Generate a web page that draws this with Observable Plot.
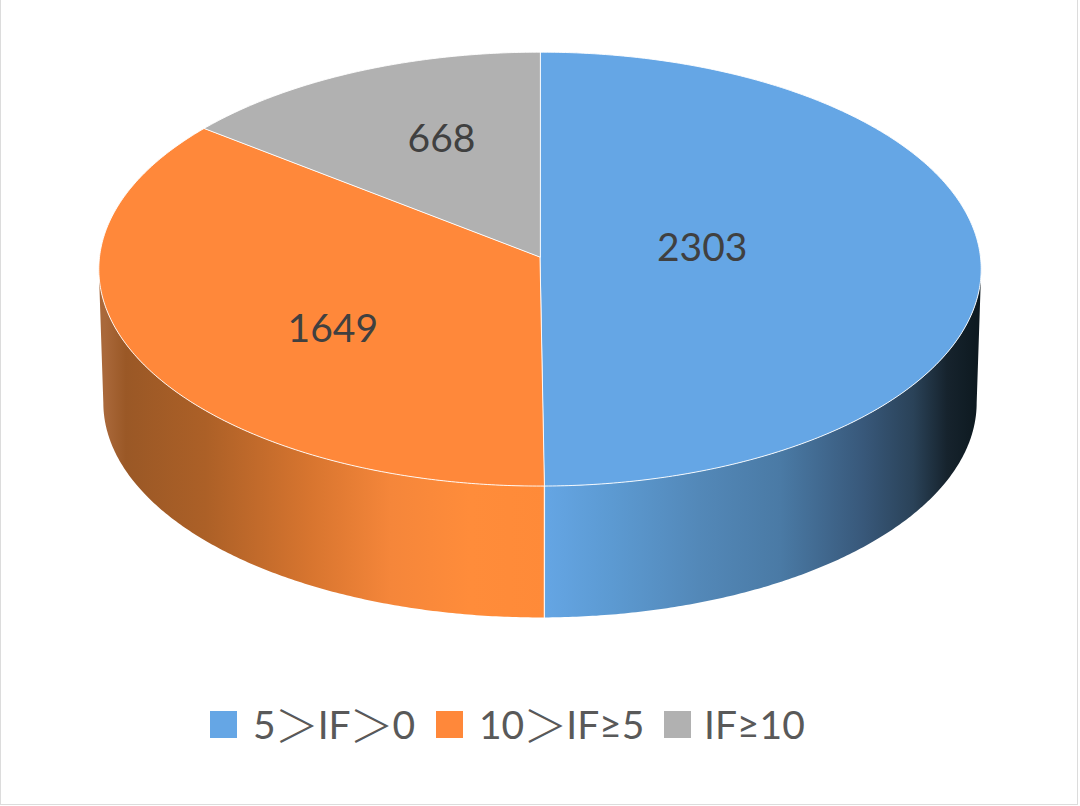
<!DOCTYPE html>
<html>
<head>
<meta charset="utf-8">
<script src="https://cdn.jsdelivr.net/npm/d3@7"></script>
<script src="https://cdn.jsdelivr.net/npm/@observablehq/plot@0.6"></script>
<style>
  html, body { margin: 0; padding: 0; background: #fff; }
  #page { position: relative; width: 1080px; height: 806px; overflow: hidden; font-family: Lato, "Noto Sans CJK SC", sans-serif; }
  #frame { position: absolute; left: 0; top: 0; width: 1076px; height: 804px; border: solid #dcdcdc; border-width: 0 1.5px 1.5px 1.5px; pointer-events: none; }
  #chart svg { display: block; }
  #legend { position: absolute; left: 0; top: 690px; width: 1080px; height: 112px; }
  .item { position: absolute; display: flex; align-items: center; height: 42px; color: #595959; font-size: 39px; white-space: nowrap; }
  .swatch { position: absolute; width: 27px; height: 27px; }
  .gt { font-family: "Noto Sans CJK SC"; font-weight: 300; font-size: 44px; margin: 0 -1px; }
</style>
</head>
<body>
<div id="page">
  <div id="chart"></div>
  <div id="legend"></div>
  <div id="frame"></div>
</div>
<script>
// ---- data ----
const categories = ["5＞IF＞0", "10＞IF≥5", "IF≥10"];
const counts = [2303, 1649, 668];
const sliceColors = ["#65a6e5", "#ff883a", "#b1b1b1"];

// ---- perspective disc geometry ----
const W = 1080, H = 690;
const top_ = {cx: 539.5, cy: 256.6, R: 440.5, A: 216.3, k: 0.0553};
const bot_ = {cx: 539.5, cy: 390.4, R: 436, A: 214, k: 0.0553};
const rad = d => d * Math.PI / 180;
function project(g, deg, f = 1) {
  const t = rad(deg), s = 1 / (1 + g.k * f * Math.cos(t));
  return {x: g.cx + g.R * f * Math.sin(t) * s, y: g.cy - g.A * f * Math.cos(t) * s};
}
const degs = (a, b, step = 0.5) => {
  const n = Math.ceil(Math.abs(b - a) / step);
  return d3.range(n + 1).map(i => a + (b - a) * i / n);
};

const total = d3.sum(counts);
let acc = 0;
const slices = counts.map((v, i) => {
  const a0 = acc / total * 360; acc += v;
  return {name: categories[i], value: v, color: sliceColors[i], a0, a1: acc / total * 360};
});

// top face polygons: apex + rim
const faces = slices.flatMap(s => [
  {name: s.name, color: s.color, ...project(top_, 0, 0)},
  ...degs(s.a0, s.a1).map(d => ({name: s.name, color: s.color, ...project(top_, d)}))
]);

// visible side walls
const leftTangent = 360 - 93.2, rightTangent = 93.2;
const wall = (a, b) => [
  ...degs(a, b).map(d => project(top_, d)),
  ...degs(b, a).map(d => project(bot_, d))
];
const blueWall = wall(rightTangent, slices[0].a1);
const orangeWall = wall(slices[0].a1, leftTangent);
const divider = [project(top_, slices[0].a1), project(bot_, slices[0].a1)];

// gradient definitions (a render-only mark)
const stops = (id, list) => `<linearGradient id="${id}" gradientUnits="userSpaceOnUse" x1="99" x2="981" y1="0" y2="0">` +
  list.map(([o, c]) => `<stop offset="${o}" stop-color="${c}"/>`).join("") + `</linearGradient>`;
const defsMark = () => {
  const g = document.createElementNS("http://www.w3.org/2000/svg", "defs");
  g.innerHTML =
    stops("orangeSide", [[0.006, "#a9683a"], [0.03, "#9a5826"], [0.12, "#ac6027"], [0.24, "#d8752f"], [0.33, "#f5863a"], [0.42, "#ff8c3a"], [0.51, "#ff8a38"]]) +
    stops("blueSide", [[0.5, "#65a6e5"], [0.58, "#5c9ad2"], [0.68, "#5388b8"], [0.772, "#4a7aa5"], [0.866, "#38587a"], [0.923, "#2a4258"], [0.961, "#16232d"], [0.993, "#0e1a21"]]);
  return g;
};

const labelOffsets = [[-80, -8], [13, 19], [5, -14]];
const textColor = "#404040";

const chart = Plot.plot({
  width: W, height: H,
  margin: 0,
  style: {background: "transparent", overflow: "visible"},
  x: {domain: [0, W], range: [0, W], axis: null},
  y: {domain: [0, H], range: [0, H], axis: null},
  color: {type: "identity"},
  marks: [
    defsMark,
    Plot.line(blueWall, {x: "x", y: "y", fill: "url(#blueSide)", stroke: "none", curve: "linear"}),
    Plot.line(orangeWall, {x: "x", y: "y", fill: "url(#orangeSide)", stroke: "none", curve: "linear"}),
    Plot.line(divider, {x: "x", y: "y", stroke: "#fff", strokeWidth: 1.3, strokeOpacity: 0.85}),
    Plot.line(faces, {x: "x", y: "y", z: "name", fill: "color", stroke: "#fff", strokeWidth: 1, strokeOpacity: 0.9, curve: "linear-closed"}),
    ...slices.map((s, i) => Plot.text([s], {
      x: () => project(top_, (s.a0 + s.a1) / 2, 0.55).x,
      y: () => project(top_, (s.a0 + s.a1) / 2, 0.55).y,
      text: d => String(d.value),
      dx: labelOffsets[i][0], dy: labelOffsets[i][1],
      fontSize: 39, fontFamily: "Lato", fill: textColor
    }))
  ]
});
document.getElementById("chart").appendChild(chart);

// ---- legend ----
const legendSlots = [
  {swatch: 210, label: 253},
  {swatch: 436, label: 479},
  {swatch: 664, label: 704}
];
const legend = d3.select("#legend");
categories.forEach((c, i) => {
  legend.append("div").attr("class", "swatch")
    .style("left", legendSlots[i].swatch + "px").style("top", "21px")
    .style("background", sliceColors[i]);
  const lab = legend.append("div").attr("class", "item")
    .style("left", legendSlots[i].label + "px").style("top", "13px");
  c.split(/(＞)/).forEach(part => {
    lab.append("span").attr("class", part === "＞" ? "gt" : null).text(part);
  });
});
</script>
</body>
</html>
